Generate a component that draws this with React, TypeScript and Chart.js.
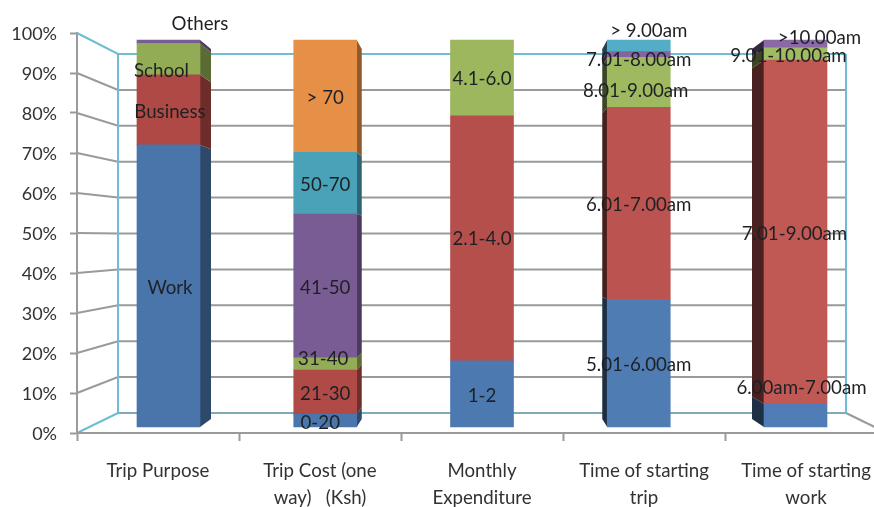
import React, { useEffect, useRef } from "react";
import { Chart, registerables } from "chart.js";

Chart.register(...registerables);

const categories = [
  "Trip Purpose",
  ["Trip Cost (one", "way)   (Ksh)"],
  ["Monthly", "Expenditure"],
  ["Time of starting", "trip"],
  ["Time of starting", "work"],
];

const yTicks = [0, 10, 20, 30, 40, 50, 60, 70, 80, 90, 100];

const series1 = [72.9, 3.3, 17.1, 33, 6];
const series2 = [18.1, 11.4, 63.3, 49.6, 88.8];
const series3 = [8.1, 3.2, 19.6, 12.9, 3.2];
const series4 = [0.9, 37.1, null, 1.5, 2];
const series5 = [null, 16, null, 3, null];
const series6 = [null, 29, null, null, null];

const labels1 = ["Work", "0-20", "1-2", "5.01-6.00am", "6.00am-7.00am"];
const labels2 = ["Business", "21-30", "2.1-4.0", "6.01-7.00am", "7.01-9.00am"];
const labels3 = ["School", "31-40", "4.1-6.0", "8.01-9.00am", "9.01-10.00am"];
const labels4 = ["Others", "41-50", null, "7.01-8.00am", ">10.00am"];
const labels5 = [null, "50-70", null, "> 9.00am", null];
const labels6 = [null, "> 70", null, null, null];

const colors1 = ["#4975AB", "#4A76AC", "#4C79AF", "#4F7CB3", "#507DB5"];
const colors2 = ["#AE4946", "#AF4A47", "#B54F4C", "#BB5450", "#C05854"];
const colors3 = ["#91AC54", "#92AD55", "#9CB75E", "#9FB960", "#A0BB62"];
const colors4 = ["#7A5C94", "#7A5C94", "#7A5C94", "#8464A0", "#8A69A6"];
const colors5 = ["#4AA2B8", "#4AA2B8", "#4AA2B8", "#53ADC6", "#53ADC6"];
const colors6 = ["#E68F47", "#E68F47", "#E68F47", "#E68F47", "#E68F47"];

const labelNudge1 = [[1.5, 2], [-5, 2.5], [0, 2], [0, 2], [6, -27]];
const labelNudge2 = [[1.5, 2], [0, 2], [0, 1], [0, 2], [-1, 2]];
const labelNudge3 = [[-7, 12], [-2, -5], [0, 1], [-3, 9], [-7, 2]];
const labelNudge4 = [[31.5, -17.5], [0, 2], [0, 0], [0, 5], [24, -6]];
const labelNudge5 = [[0, 0], [0, 2], [0, 0], [10, -15], [0, 0]];
const labelNudge6 = [[0, 0], [0, 2], [0, 0], [0, 0], [0, 0]];

const sideDepth = [11, 5, 0, -5, -12];
const FONT = "Lato";

const allSeries = [series1, series2, series3, series4, series5, series6];
const allLabels = [labels1, labels2, labels3, labels4, labels5, labels6];
const allColors = [colors1, colors2, colors3, colors4, colors5, colors6];
const allNudges = [labelNudge1, labelNudge2, labelNudge3, labelNudge4, labelNudge5, labelNudge6];

const GRID = "#979B9B";
const WALL = "#6FBDD3";
const BACK_LEFT = 118;
const BACK_RIGHT = 846;

function shade(hex: string, f: number) {
  const n = parseInt(hex.slice(1), 16);
  const r = Math.round(((n >> 16) & 255) * f);
  const g = Math.round(((n >> 8) & 255) * f);
  const b = Math.round((n & 255) * f);
  return `rgb(${r},${g},${b})`;
}

const wallsPlugin = {
  id: "walls",
  beforeDatasetsDraw(chart: any) {
    const { ctx, scales, chartArea } = chart;
    const line = (pts: number[][], color: string, width = 2) => {
      ctx.beginPath();
      pts.forEach((p, i) => (i ? ctx.lineTo(p[0], p[1]) : ctx.moveTo(p[0], p[1])));
      ctx.strokeStyle = color;
      ctx.lineWidth = width;
      ctx.stroke();
    };
    ctx.save();
    const left = chartArea.left;
    const right = chartArea.right;
    yTicks.forEach((t) => {
      const fy = scales.y.getPixelForValue(t);
      const by = scales.yBack.getPixelForValue(t);
      if (t === 100) {
        line([[left, fy], [BACK_LEFT, by], [BACK_RIGHT, by]], WALL);
      } else if (t === 0) {
        line([[left, fy], [BACK_LEFT, by]], WALL);
        line([[BACK_LEFT, by], [BACK_RIGHT, by]], "#7FAAB6");
        line([[BACK_RIGHT, by], [right, fy]], GRID);
      } else {
        line([[left, fy], [BACK_LEFT, by], [BACK_RIGHT, by]], GRID);
      }
    });
    const top = scales.yBack.getPixelForValue(100);
    const bottom = scales.yBack.getPixelForValue(0);
    line([[BACK_LEFT, top], [BACK_LEFT, bottom]], WALL);
    line([[BACK_RIGHT, top], [BACK_RIGHT, bottom]], WALL);
    line([[left, scales.y.getPixelForValue(0)], [right, scales.y.getPixelForValue(0)]], GRID);

    // side faces of the columns
    chart.data.datasets.forEach((ds: any, di: number) => {
      const meta = chart.getDatasetMeta(di);
      meta.data.forEach((el: any, i: number) => {
        const dx = sideDepth[i];
        if (!dx || ds.data[i].y == null) return;
        const edge = dx > 0 ? el.x + el.width / 2 : el.x - el.width / 2;
        const toBack = (px: number) =>
          scales.yDepth.getPixelForValue(scales.yBar.getValueForPixel(px));
        ctx.beginPath();
        ctx.moveTo(edge, el.y);
        ctx.lineTo(edge + dx, toBack(el.y));
        ctx.lineTo(edge + dx, toBack(el.base));
        ctx.lineTo(edge, el.base);
        ctx.closePath();
        ctx.fillStyle = shade(allColors[di][i], dx > 0 ? 0.62 : 0.38);
        ctx.fill();
      });
    });
    ctx.restore();
  },
};

const labelsPlugin = {
  id: "segmentLabels",
  afterDatasetsDraw(chart: any) {
    const { ctx } = chart;
    ctx.save();
    ctx.font = `18.7px ${FONT}`;
    ctx.fillStyle = "#1E2024";
    ctx.textAlign = "center";
    ctx.textBaseline = "middle";
    allLabels.forEach((labels, di) => {
      const meta = chart.getDatasetMeta(di);
      labels.forEach((text, i) => {
        if (!text) return;
        const el = meta.data[i];
        const [nx, ny] = allNudges[di][i];
        ctx.fillText(text, el.x + nx, (el.y + el.base) / 2 + ny);
      });
    });
    ctx.restore();
  },
};

export default function App() {
  const ref = useRef<HTMLCanvasElement | null>(null);

  useEffect(() => {
    const chart = new Chart(ref.current as any, {
      type: "bar",
      data: {
        labels: categories as any,
        datasets: allSeries.map((values, di) => ({
          label: `Series ${di + 1}`,
          data: values.map((v, i) => ({ x: i, y: v })) as any,
          backgroundColor: allColors[di],
          borderWidth: 0,
          barThickness: 63,
          xAxisID: "xBar",
          yAxisID: "yBar",
        })),
      },
      options: {
        responsive: false,
        animation: false,
        devicePixelRatio: 1,
        layout: { padding: { top: 33, right: 13, left: 0, bottom: 0 } },
        plugins: { legend: { display: false }, tooltip: { enabled: false }, title: { display: false } },
        scales: {
          x: {
            type: "category",
            labels: categories as any,
            offset: true,
            position: "bottom",
            afterFit: (s: any) => {
              s.height = 74;
            },
            grid: { offset: true, drawOnChartArea: false, tickLength: 8, tickColor: GRID, tickWidth: 2 },
            border: { display: false },
            ticks: {
              autoSkip: false,
              maxRotation: 0,
              padding: 16,
              color: "#303234",
              font: { family: FONT, size: 18.7, lineHeight: 1.45 },
            },
          },
          y: {
            type: "linear",
            position: "left",
            min: 0,
            max: 100,
            afterFit: (s: any) => {
              s.width = 77;
            },
            grid: { drawOnChartArea: false, tickLength: 7, tickColor: GRID, tickWidth: 2 },
            border: { display: true, color: GRID, width: 2 },
            ticks: {
              stepSize: 10,
              padding: 13,
              labelOffset: 1.5,
              color: "#303234",
              font: { family: FONT, size: 18 },
              callback: (v: any) => `${v}%`,
            },
          },
          xBar: { type: "linear", display: false, stacked: true, offset: false, min: -0.5837, max: 4.5837 },
          yBar: { type: "linear", display: false, stacked: true, min: -1.55, max: 101.809 },
          yBack: { type: "linear", display: false, min: -5.571, max: 105.85 },
          yDepth: { type: "linear", display: false, min: -3.784, max: 104.324 },
        } as any,
      },
      plugins: [wallsPlugin, labelsPlugin],
    });
    return () => chart.destroy();
  }, []);

  return (
    <div style={{ position: "absolute", left: 0, top: 0, width: 874, height: 507, overflow: "hidden", background: "#fff" }}>
      <canvas ref={ref} width={900} height={507} style={{ display: "block", filter: "blur(0.6px)" }} />
    </div>
  );
}
